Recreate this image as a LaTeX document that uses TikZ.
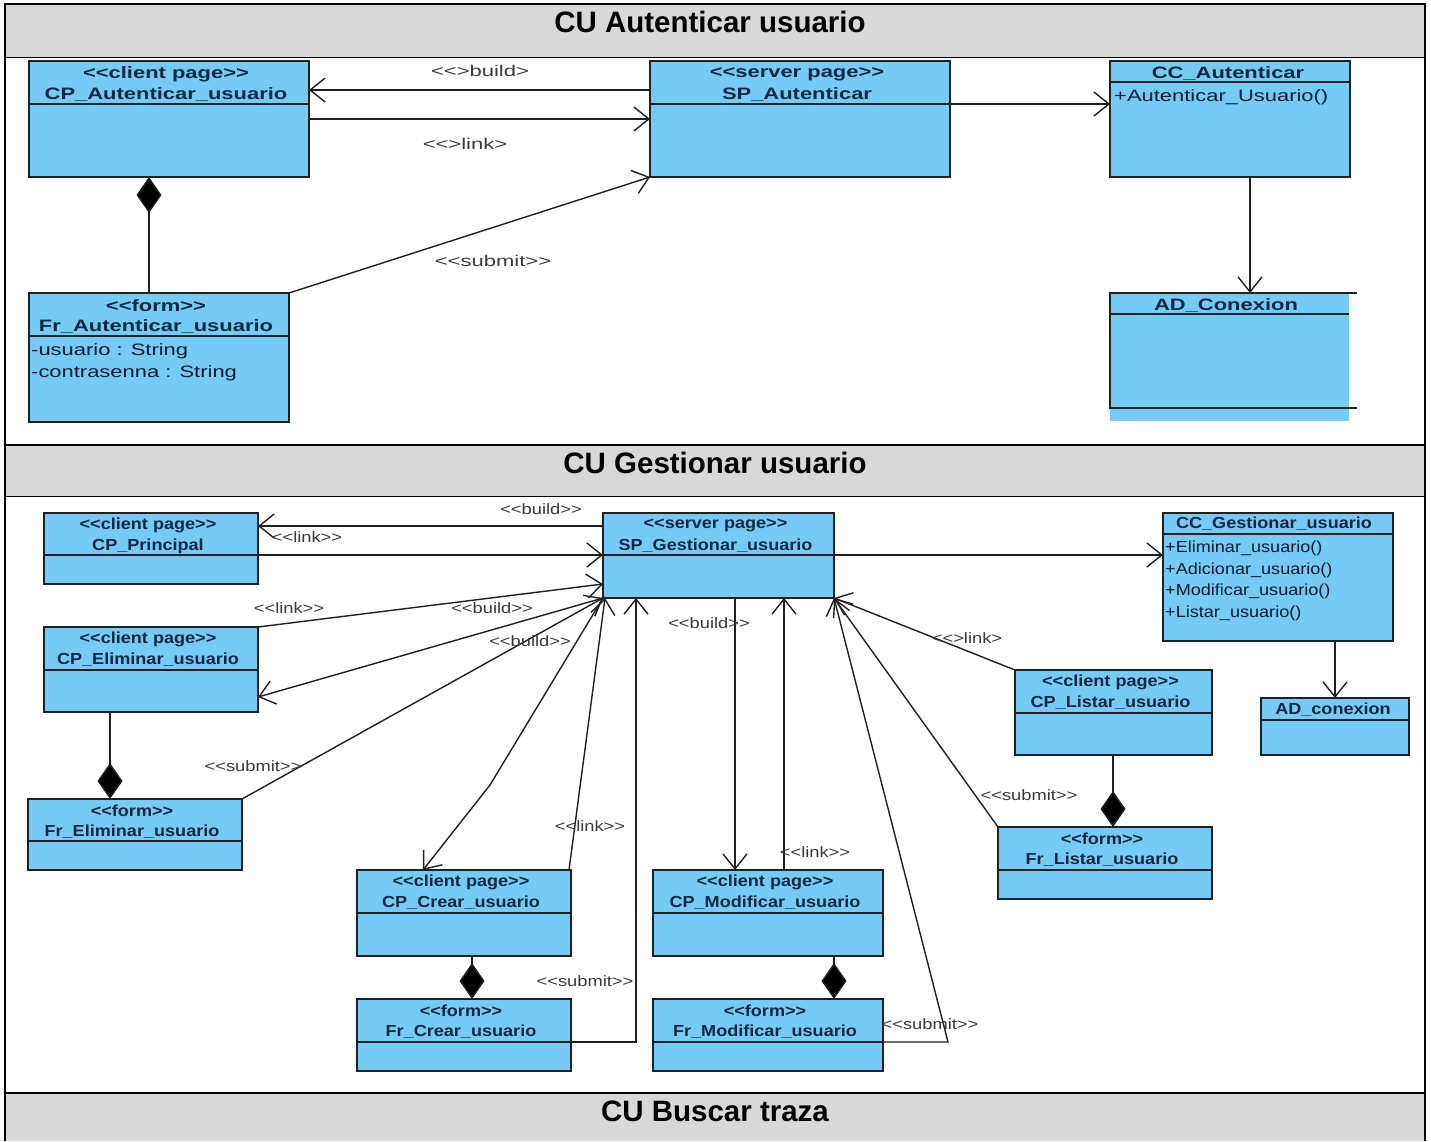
\documentclass[tikz,border=0pt]{standalone}
\usepackage{fontspec}
\setmainfont{Liberation Sans}
\newfontfamily\boxfont[FakeStretch=1.13]{Liberation Sans}
\newfontfamily\lblfont[FakeStretch=1.22]{Liberation Sans}
\newfontfamily\wideboxfont[FakeStretch=1.33]{Liberation Sans}
\newfontfamily\widelblfont[FakeStretch=1.42]{Liberation Sans}
\usetikzlibrary{arrows.meta}
\definecolor{umlblue}{HTML}{75CBF5}
\definecolor{umlink}{HTML}{0F2740}
\definecolor{bandgray}{HTML}{D8D8D8}
\definecolor{lblgray}{HTML}{3A3A3A}
\definecolor{edge}{HTML}{202020}
\tikzset{
  x=1pt,y=-1pt,
  umlbox/.style={draw=edge,fill=umlblue,line width=1.4pt,inner sep=0,outer sep=0,anchor=north west},
  head/.style={font=\boxfont\bfseries\fontsize{16}{18}\selectfont,text=umlink,inner sep=0},
  attr/.style={font=\boxfont\fontsize{16}{18}\selectfont,text=umlink!70!black,inner sep=0,anchor=west},
  lbl/.style={font=\lblfont\fontsize{15}{16}\selectfont,text=lblgray,inner sep=0},
  widetext/.style={
    head/.style={font=\wideboxfont\bfseries\fontsize{16.5}{18}\selectfont,text=umlink,inner sep=0,yshift=-1pt},
    attr/.style={font=\wideboxfont\fontsize{16.5}{18}\selectfont,text=umlink!70!black,inner sep=0,anchor=west},
    lbl/.style={font=\widelblfont\fontsize{15.5}{16}\selectfont,text=lblgray,inner sep=0},
  },
  band/.style={font=\bfseries\fontsize{29.5}{32}\selectfont,text=black,inner sep=0},
  conn/.style={draw=edge,line width=1.4pt,-{Straight Barb[length=15pt,width=24pt,line width=1.4pt]}},
  comp/.style={draw=edge,line width=1.5pt,-{Diamond[length=36pt,width=25pt,fill=black]}},
}
% name, x1, y1, x2, y2, ysep, line1, line2
\newcommand{\ubox}[8]{%
  \node[umlbox,minimum width=#4-#2,minimum height=#5-#3] (#1) at (#2,#3) {};
  \draw[draw=edge,line width=1.1pt] (#2,#6) -- (#4,#6);
  \node[head] (#1a) at ({(#2+#4)/2-3},#3+12) {#7};
  \node[head] (#1b) at ({(#2+#4)/2-3},#3+33) {#8};
}
\begin{document}
\begin{tikzpicture}
\useasboundingbox (0,0) rectangle (1431,1141);
\fill[white] (0,0) rectangle (1431,1141);
% bands
\fill[bandgray] (5,4) rectangle (1425,57);
\fill[bandgray] (5,445) rectangle (1425,496);
\fill[bandgray] (5,1093) rectangle (1425,1141);
\draw[line width=2pt] (5,1141) -- (5,4) -- (1425,4) -- (1425,1141);
\draw[line width=1pt] (5,57) -- (1425,57);
\draw[line width=2pt] (5,445) -- (1425,445);
\draw[line width=1pt] (5,496) -- (1425,496);
\draw[line width=2pt] (5,1093) -- (1425,1093);
\node[band] (t1) at (710,22) {CU Autenticar usuario};
\node[band] (t2) at (715,463) {CU Gestionar usuario};
\node[band] (t3) at (715,1111) {CU Buscar traza};
% --- first diagram
\begin{scope}[widetext]
\ubox{cpa}{29}{61}{309}{177}{104}{<<client page>>}{CP\_Autenticar\_usuario}
\ubox{spa}{650}{61}{950}{177}{104}{<<server page>>}{SP\_Autenticar}
\node[umlbox,minimum width=240,minimum height=116] (cca) at (1110,61) {};
\draw[draw=edge,line width=1.1pt] (1110,82) -- (1350,82);
\node[head] (ccat) at (1228,73) {CC\_Autenticar};
\node[attr] (ccam) at (1114,97) {+Autenticar\_Usuario()};
\ubox{fra}{29}{293}{289}{422}{336}{<<form>>}{Fr\_Autenticar\_usuario}
\node[attr] (fra1) at (31,351) {-usuario : String};
\node[attr] (fra2) at (31,373) {-contrasenna : String};
\node[fill=umlblue,inner sep=0,outer sep=0,anchor=north west,minimum width=239,minimum height=128] (ada) at (1110,293) {};
\draw[draw=edge,line width=1.4pt] (1357,293) -- (1110,293) -- (1110,408) -- (1357,408);
\draw[draw=edge,line width=1.1pt] (1110,314) -- (1349,314);
\node[head] (adat) at (1226,305) {AD\_Conexion};
\draw[conn] ([yshift=-29pt]spa.north west) -- ([yshift=-29pt]cpa.north east);
\draw[conn] ([yshift=-58pt]cpa.north east) -- ([yshift=-58pt]spa.north west);
\draw[conn] (fra.north east) -- (spa.south west);
\draw[conn] ([yshift=-43pt]spa.north east) -- ([yshift=-43pt]cca.north west);
\draw[conn] ([xshift=140pt]cca.south west) -- ([xshift=140pt]ada.north west);
\draw[comp] ([xshift=120pt]fra.north west) -- ([xshift=120pt]cpa.south west);
\node[lbl] (l1) at (480,71) {<<>build>};
\node[lbl] (l2) at (465,144) {<<>link>};
\node[lbl] (l3) at (493,261) {<<submit>>};
\end{scope}
% --- second diagram
\ubox{cpp}{44}{513}{258}{584}{555}{<<client page>>}{CP\_Principal}
\ubox{spg}{603}{513}{834}{598}{555}{<<server page>>}{SP\_Gestionar\_usuario}
\node[umlbox,minimum width=230,minimum height=128] (ccg) at (1163,513) {};
\draw[draw=edge,line width=1.1pt] (1163,534) -- (1393,534);
\node[head] (ccgt) at (1274,524) {CC\_Gestionar\_usuario};
\node[attr] (ccg1) at (1165,548) {+Eliminar\_usuario()};
\node[attr] (ccg2) at (1165,570) {+Adicionar\_usuario()};
\node[attr] (ccg3) at (1165,591) {+Modificar\_usuario()};
\node[attr] (ccg4) at (1165,613) {+Listar\_usuario()};
\node[umlbox,minimum width=148,minimum height=57] (adg) at (1261,698) {};
\draw[draw=edge,line width=1.1pt] (1261,720) -- (1409,720);
\node[head] (adgt) at (1333,710) {AD\_conexion};
\ubox{cpe}{44}{627}{258}{712}{670}{<<client page>>}{CP\_Eliminar\_usuario}
\ubox{fre}{28}{799}{242}{870}{841}{<<form>>}{Fr\_Eliminar\_usuario}
\ubox{cpc}{357}{870}{571}{956}{913}{<<client page>>}{CP\_Crear\_usuario}
\ubox{frc}{357}{999}{571}{1071}{1042}{<<form>>}{Fr\_Crear\_usuario}
\ubox{cpm}{653}{870}{883}{956}{913}{<<client page>>}{CP\_Modificar\_usuario}
\ubox{frm}{653}{999}{883}{1071}{1042}{<<form>>}{Fr\_Modificar\_usuario}
\ubox{cpl}{1015}{670}{1212}{755}{713}{<<client page>>}{CP\_Listar\_usuario}
\ubox{frl}{998}{827}{1212}{899}{870}{<<form>>}{Fr\_Listar\_usuario}
\draw[conn] ([yshift=-13pt]spg.north west) -- ([yshift=-13pt]cpp.north east);
\draw[conn] ([yshift=-42pt]cpp.north east) -- ([yshift=-42pt]spg.north west);
\draw[conn] (cpe.north east) -- ([yshift=14pt]spg.south west);
\draw[conn] (spg.south west) -- ([yshift=15pt]cpe.south east);
\draw[conn] (fre.north east) -- (spg.south west);
\coordinate (bc) at (490,785);
\draw[conn] (spg.south west) -- (bc) -- ([xshift=66pt]cpc.north west);
\draw[conn] ([xshift=-2pt]cpc.north east) -- ([xshift=2pt]spg.south west);
\coordinate (fc) at (636,1042);
\draw[conn] ([yshift=-43pt]frc.north east) -- (fc) -- ([xshift=33pt]spg.south west);
\draw[conn] ([xshift=132pt]spg.south west) -- ([xshift=82pt]cpm.north west);
\draw[conn] ([xshift=131pt]cpm.north west) -- ([xshift=181pt]spg.south west);
\coordinate (fm) at (948,1042);
\draw[conn] ([yshift=-43pt]frm.north east) -- (fm) -- (spg.south east);
\draw[conn] (cpl.north west) -- (spg.south east);
\draw[conn] (frl.north west) -- (spg.south east);
\draw[conn] ([yshift=-42pt]spg.north east) -- ([yshift=-42pt]ccg.north west);
\draw[conn] ([xshift=172pt]ccg.south west) -- ([xshift=74pt]adg.north west);
\draw[comp] ([xshift=66pt]cpe.south west) -- ([xshift=82pt]fre.north west);
\draw[comp] ([xshift=115pt]cpc.south west) -- ([xshift=115pt]frc.north west);
\draw[comp] ([xshift=181pt]cpm.south west) -- ([xshift=181pt]frm.north west);
\draw[comp] ([xshift=98pt]cpl.south west) -- ([xshift=115pt]frl.north west);
\node[lbl] (g1) at (541,509) {<<build>>};
\node[lbl] (g2) at (307,537) {<<link>>};
\node[lbl] (g3) at (289,608) {<<link>>};
\node[lbl] (g4) at (492,608) {<<build>>};
\node[lbl] (g5) at (530,641) {<<build>>};
\node[lbl] (g6) at (253,766) {<<submit>>};
\node[lbl] (g7) at (590,826) {<<link>>};
\node[lbl] (g8) at (709,623) {<<build>>};
\node[lbl] (g9) at (815,852) {<<link>>};
\node[lbl] (g10) at (585,981) {<<submit>>};
\node[lbl] (g11) at (930,1024) {<<submit>>};
\node[lbl] (g12) at (967,638) {<<>link>};
\node[lbl] (g13) at (1029,795) {<<submit>>};
\end{tikzpicture}
\end{document}
